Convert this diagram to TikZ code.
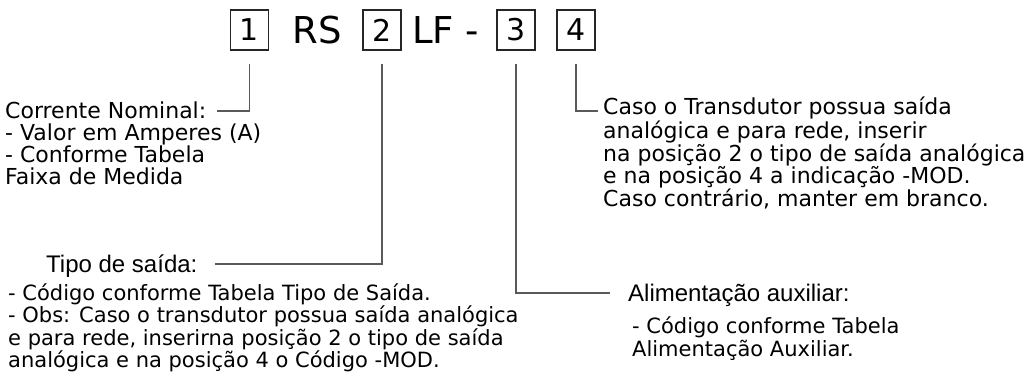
\documentclass[tikz,border=0pt]{standalone}
\usepackage{fontspec}
\setmainfont{DejaVu Sans}
\newfontfamily\arialf{Liberation Sans}
\begin{document}
\begin{tikzpicture}[x=1pt,y=-1pt,
  digitbox/.style={draw=black!85,line width=1.2pt,minimum width=38pt,minimum height=40pt,inner sep=0pt,font=\fontsize{30}{30}\selectfont},
  bigtxt/.style={inner sep=0pt,anchor=base,font=\fontsize{37}{37}\selectfont},
  body/.style={inner sep=0pt,anchor=base west,align=left,font=\fontsize{22}{22}\selectfont},
  smallbody/.style={body,font=\fontsize{21}{22.5}\selectfont},
  head/.style={inner sep=0pt,anchor=base west,font=\arialf\fontsize{24}{24}\selectfont},
  conn/.style={draw=black!65,line width=1.5pt}]
\useasboundingbox (0,0) rectangle (1029,387);
% code row
\node[digitbox] (b1) at (249.5,30) {1};
\node[bigtxt] (rs) at (317,44) {RS};
\node[digitbox] (b2) at (382,30) {2};
\node[bigtxt] (lf) at (433,44) {LF};
\node[bigtxt] (dash) at (472.5,44) {-};
\node[digitbox] (b3) at (516,30) {3};
\node[digitbox] (b4) at (576,30) {4};
% texts (base anchor = baseline of last line)
\node[body] (cn) at (5,184.5) {Corrente Nominal:\\- Valor em Amperes (A)\\- Conforme Tabela\\Faixa de Medida};
\node[head] (ts) at (46,272.5) {Tipo de saída:};
\node[smallbody] (tsb) at (8,368) {- Código conforme Tabela Tipo de Saída.\\- Obs: Caso o transdutor possua saída analógica\\e para rede, inserirna posição 2 o tipo de saída\\analógica e na posição 4 o Código -MOD.};
\node[head] (aa) at (628,301.5) {Alimentação auxiliar:};
\node[smallbody] (aab) at (632,356.5) {- Código conforme Tabela\\Alimentação Auxiliar.};
\node[body] (ct) at (603,206.5) {Caso o Transdutor possua saída\\analógica e para rede, inserir\\na posição 2 o tipo de saída analógica\\e na posição 4 a indicação -MOD.\\Caso contrário, manter em branco.};
% connector ends
\coordinate (e1) at (217,111);
\coordinate (e2) at (215,264);
\coordinate (e3) at (610,293);
\coordinate (e4) at (598,111);
\draw[conn] ([yshift=-13pt]b1.south) |- (e1);
\draw[conn] ([yshift=-13pt]b2.south) |- (e2);
\draw[conn] ([yshift=-13pt]b3.south) |- (e3);
\draw[conn] ([yshift=-13pt]b4.south) |- (e4);
\end{tikzpicture}
\end{document}
